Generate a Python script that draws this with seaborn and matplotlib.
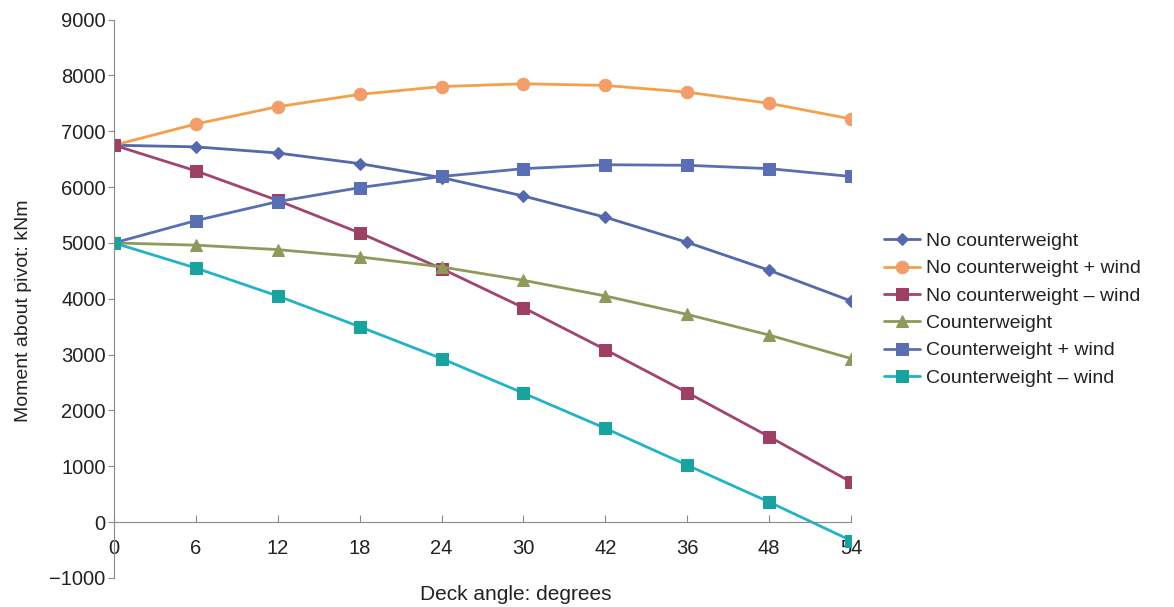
import numpy as np
import pandas as pd
import matplotlib
matplotlib.use('Agg')
import matplotlib.pyplot as plt
import seaborn as sns

# --- Data ---
angles = ['0', '6', '12', '18', '24', '30', '42', '36', '48', '54']
no_cw = [6750, 6720, 6610, 6420, 6170, 5840, 5460, 5010, 4510, 3960]
no_cw_plus = [6750, 7130, 7440, 7660, 7800, 7850, 7820, 7700, 7500, 7220]
no_cw_minus = [6750, 6290, 5760, 5180, 4540, 3840, 3090, 2320, 1530, 720]
cw = [5000, 4960, 4880, 4750, 4570, 4330, 4050, 3720, 3350, 2930]
cw_plus = [5000, 5400, 5740, 5990, 6190, 6330, 6400, 6390, 6330, 6190]
cw_minus = [5000, 4550, 4050, 3500, 2930, 2310, 1680, 1020, 360, -330]

series_names = ['No counterweight', 'No counterweight + wind', 'No counterweight \u2013 wind',
                'Counterweight', 'Counterweight + wind', 'Counterweight \u2013 wind']
series_vals = [no_cw, no_cw_plus, no_cw_minus, cw, cw_plus, cw_minus]

# --- Styles ---
line_colors = ['#5468AC', '#F3A04C', '#A24470', '#8E9A5C', '#5A6EB4', '#22B3C9']
marker_colors = ['#5468AC', '#F29E6A', '#9E3F66', '#8E9A5C', '#5A6EB4', '#1AA39E']
markers = ['D', 'o', 's', '^', 's', 's']
msizes = [6, 9, 8.5, 8, 8.5, 8]
text_col = '#222222'

sns.set_style('white')
plt.rcParams['font.family'] = ['Liberation Sans', 'DejaVu Sans']

fig = plt.figure(figsize=(11.74, 6.07), dpi=100)
ax = fig.add_axes([0.0971, 0.0478, 0.6278, 0.92])

pos = np.arange(len(angles))
for name, vals, lc, mc, mk, ms in zip(series_names, series_vals, line_colors,
                                      marker_colors, markers, msizes):
    df = pd.DataFrame({'pos': pos, 'val': vals})
    sns.lineplot(data=df, x='pos', y='val', ax=ax, color=lc, linewidth=2,
                 marker=mk, markersize=ms, markerfacecolor=mc,
                 markeredgecolor=mc, label=name)

ax.set_xlim(0, len(angles) - 1)
ax.set_ylim(-1000, 9000)
ax.set_yticks(np.arange(-1000, 9001, 1000))
ax.set_yticklabels(['\u22121000'] + [str(v) for v in range(0, 9001, 1000)])
ax.set_xticks(pos)
ax.set_xticklabels(angles)

for s in ['top', 'right']:
    ax.spines[s].set_visible(False)
ax.spines['bottom'].set_position(('data', 0))
ax.spines['bottom'].set_color('#8a8a8a')
ax.spines['left'].set_color('#8a8a8a')

ax.tick_params(axis='y', direction='out', length=4, color='#8a8a8a',
               labelsize=14.5, labelcolor=text_col, left=True, pad=2)
ax.tick_params(axis='x', direction='in', length=5, color='#8a8a8a',
               labelsize=14.5, labelcolor=text_col, bottom=True, pad=12)

ax.set_xlabel('Deck angle: degrees', fontsize=15, color=text_col)
ax.xaxis.set_label_coords(0.545, -0.012)
ax.set_ylabel('Moment about pivot: kNm', fontsize=14, color=text_col)
ax.yaxis.set_label_coords(-0.111, 0.478)

ax.legend(loc='upper left', bbox_to_anchor=(0.738, 0.646),
          bbox_transform=fig.transFigure, frameon=False, fontsize=14,
          handlelength=1.85, handletextpad=0.3, labelspacing=0.5,
          labelcolor=text_col)

fig.savefig('out.png', dpi=100)
